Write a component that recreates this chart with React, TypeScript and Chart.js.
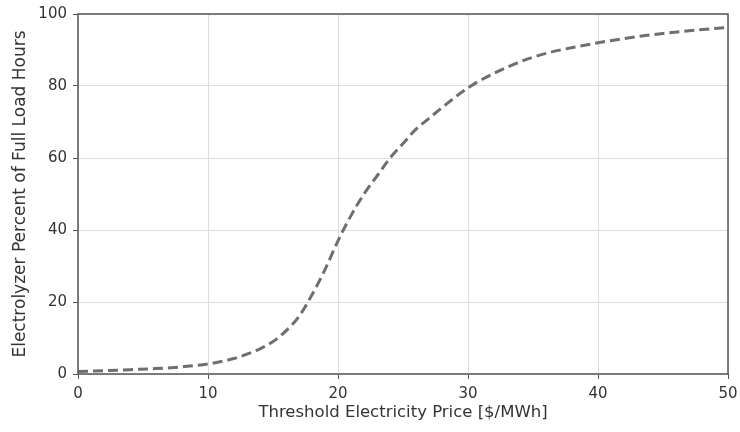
import React, { useEffect, useRef } from "react";
import { Chart, registerables } from "chart.js";

Chart.register(...registerables);

const priceX: number[] = [0, 2, 4, 6, 8, 10, 12, 13, 14, 15, 16, 17, 18, 19, 20, 21, 22, 23, 24, 25, 26, 27, 28, 30, 32, 35, 40, 45, 50];
const loadPct: number[] = [0.7, 0.9, 1.2, 1.5, 2.0, 2.8, 4.3, 5.5, 7.0, 9.0, 12.0, 16.0, 22.0, 29.0, 37.0, 44.0, 50.0, 55.0, 60.0, 64.0, 68.0, 71.0, 74.0, 79.5, 83.5, 88.0, 92.0, 94.6, 96.3];
const xTitle = "Threshold Electricity Price [$/MWh]";
const yTitle = "Electrolyzer Percent of Full Load Hours";

const boxPlugin = {
  id: "boxPlugin",
  afterDraw(chart: any) {
    const { ctx, chartArea } = chart;
    ctx.save();
    ctx.strokeStyle = "#555";
    ctx.lineWidth = 1.5;
    ctx.strokeRect(chartArea.left, chartArea.top, chartArea.right - chartArea.left, chartArea.bottom - chartArea.top);
    ctx.restore();
  },
};

export default function App() {
  const ref = useRef<HTMLCanvasElement>(null);
  useEffect(() => {
    const tickFont = { family: "DejaVu Sans", size: 15 };
    const chart = new Chart(ref.current!, {
      type: "line",
      data: {
        datasets: [
          {
            data: priceX.map((x, i) => ({ x, y: loadPct[i] })),
            borderColor: "#6e6e6e",
            borderWidth: 3,
            borderDash: [10, 5],
            pointRadius: 0,
            tension: 0.4,
            cubicInterpolationMode: "monotone",
            fill: false,
          },
        ],
      },
      options: {
        animation: false,
        responsive: false,
        maintainAspectRatio: false,
        layout: { padding: { left: 0, right: 12, top: 14, bottom: 0 } },
        plugins: { legend: { display: false }, tooltip: { enabled: false } },
        scales: {
          x: {
            type: "linear",
            min: 0,
            max: 50,
            ticks: { stepSize: 10, color: "#333", font: tickFont, padding: 6, maxRotation: 0 },
            grid: { color: "#dddddd", lineWidth: 1, tickColor: "#555", tickLength: 5, drawTicks: true },
            border: { display: false },
            title: { display: true, text: xTitle, color: "#333", font: { family: "DejaVu Sans", size: 16.5 }, padding: { top: 0, bottom: 9 } },
            afterFit(scale: any) {
              scale.height = 58;
              scale.paddingLeft = 0;
              scale.paddingRight = 0;
            },
          },
          y: {
            type: "linear",
            min: 0,
            max: 100,
            ticks: { stepSize: 20, color: "#333", font: tickFont, padding: 6 },
            grid: { color: "#dddddd", lineWidth: 1, tickColor: "#555", tickLength: 5, drawTicks: true },
            border: { display: false },
            title: { display: true, text: yTitle, color: "#333", font: { family: "DejaVu Sans", size: 17 }, padding: { top: 10, bottom: 0 } },
            afterFit(scale: any) {
              scale.width = 78;
              scale.paddingTop = 0;
              scale.paddingBottom = 0;
            },
          },
        },
      },
      plugins: [boxPlugin],
    } as any);
    return () => chart.destroy();
  }, []);
  return (
    <div style={{ position: "fixed", left: 0, top: 0, width: 740, height: 432, background: "#fff" }}>
      <canvas ref={ref} width={740} height={432} style={{ width: 740, height: 432 }} />
    </div>
  );
}
